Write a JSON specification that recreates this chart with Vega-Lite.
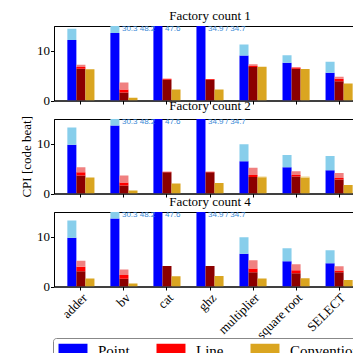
{
  "$schema": "https://vega.github.io/schema/vega-lite/v6.json",
  "padding": {"left": 20, "top": 9, "right": -14, "bottom": -9},
  "datasets": {
    "bars": [
      {"p":1,"c":"adder","s":"Point","g":"Point","lo":0,"hi":12.2},
      {"p":1,"c":"adder","s":"Point","g":"Point+","lo":12.2,"hi":14.45},
      {"p":1,"c":"adder","s":"Line","g":"Line base","lo":0,"hi":6.4},
      {"p":1,"c":"adder","s":"Line","g":"Line","lo":6.4,"hi":6.75},
      {"p":1,"c":"adder","s":"Line","g":"Line+","lo":6.75,"hi":7.2},
      {"p":1,"c":"adder","s":"Convention","g":"Convention","lo":0,"hi":6.3},
      {"p":1,"c":"bv","s":"Point","g":"Point","lo":0,"hi":13.6},
      {"p":1,"c":"bv","s":"Point","g":"Point+","lo":13.6,"hi":30.3},
      {"p":1,"c":"bv","s":"Line","g":"Line base","lo":0,"hi":1.6},
      {"p":1,"c":"bv","s":"Line","g":"Line","lo":1.6,"hi":2.2},
      {"p":1,"c":"bv","s":"Line","g":"Line+","lo":2.2,"hi":3.6},
      {"p":1,"c":"bv","s":"Convention","g":"Convention","lo":0,"hi":0.55},
      {"p":1,"c":"cat","s":"Point","g":"Point","lo":0,"hi":47.6},
      {"p":1,"c":"cat","s":"Line","g":"Line base","lo":0,"hi":4.2},
      {"p":1,"c":"cat","s":"Line","g":"Line","lo":4.2,"hi":4.4},
      {"p":1,"c":"cat","s":"Convention","g":"Convention","lo":0,"hi":2.2},
      {"p":1,"c":"ghz","s":"Point","g":"Point","lo":0,"hi":34.9},
      {"p":1,"c":"ghz","s":"Line","g":"Line base","lo":0,"hi":4.2},
      {"p":1,"c":"ghz","s":"Line","g":"Line","lo":4.2,"hi":4.35},
      {"p":1,"c":"ghz","s":"Convention","g":"Convention","lo":0,"hi":2.2},
      {"p":1,"c":"multiplier","s":"Point","g":"Point","lo":0,"hi":9.05},
      {"p":1,"c":"multiplier","s":"Point","g":"Point+","lo":9.05,"hi":11.3},
      {"p":1,"c":"multiplier","s":"Line","g":"Line base","lo":0,"hi":6.75},
      {"p":1,"c":"multiplier","s":"Line","g":"Line","lo":6.75,"hi":6.95},
      {"p":1,"c":"multiplier","s":"Line","g":"Line+","lo":6.95,"hi":7.3},
      {"p":1,"c":"multiplier","s":"Convention","g":"Convention","lo":0,"hi":6.8},
      {"p":1,"c":"square root","s":"Point","g":"Point","lo":0,"hi":7.6},
      {"p":1,"c":"square root","s":"Point","g":"Point+","lo":7.6,"hi":9.1},
      {"p":1,"c":"square root","s":"Line","g":"Line base","lo":0,"hi":6.4},
      {"p":1,"c":"square root","s":"Line","g":"Line","lo":6.4,"hi":6.65},
      {"p":1,"c":"square root","s":"Convention","g":"Convention","lo":0,"hi":6.35},
      {"p":1,"c":"SELECT","s":"Point","g":"Point","lo":0,"hi":5.6},
      {"p":1,"c":"SELECT","s":"Point","g":"Point+","lo":5.6,"hi":7.8},
      {"p":1,"c":"SELECT","s":"Line","g":"Line base","lo":0,"hi":3.9},
      {"p":1,"c":"SELECT","s":"Line","g":"Line","lo":3.9,"hi":4.4},
      {"p":1,"c":"SELECT","s":"Line","g":"Line+","lo":4.4,"hi":4.8},
      {"p":1,"c":"SELECT","s":"Convention","g":"Convention","lo":0,"hi":3.4},

      {"p":2,"c":"adder","s":"Point","g":"Point","lo":0,"hi":9.8},
      {"p":2,"c":"adder","s":"Point","g":"Point+","lo":9.8,"hi":13.3},
      {"p":2,"c":"adder","s":"Line","g":"Line base","lo":0,"hi":3.6},
      {"p":2,"c":"adder","s":"Line","g":"Line","lo":3.6,"hi":4.3},
      {"p":2,"c":"adder","s":"Line","g":"Line+","lo":4.3,"hi":5.3},
      {"p":2,"c":"adder","s":"Convention","g":"Convention","lo":0,"hi":3.2},
      {"p":2,"c":"bv","s":"Point","g":"Point","lo":0,"hi":13.7},
      {"p":2,"c":"bv","s":"Point","g":"Point+","lo":13.7,"hi":30.3},
      {"p":2,"c":"bv","s":"Line","g":"Line base","lo":0,"hi":1.6},
      {"p":2,"c":"bv","s":"Line","g":"Line","lo":1.6,"hi":2.2},
      {"p":2,"c":"bv","s":"Line","g":"Line+","lo":2.2,"hi":3.6},
      {"p":2,"c":"bv","s":"Convention","g":"Convention","lo":0,"hi":0.6},
      {"p":2,"c":"cat","s":"Point","g":"Point","lo":0,"hi":47.6},
      {"p":2,"c":"cat","s":"Line","g":"Line base","lo":0,"hi":4.3},
      {"p":2,"c":"cat","s":"Line","g":"Line","lo":4.3,"hi":4.4},
      {"p":2,"c":"cat","s":"Convention","g":"Convention","lo":0,"hi":2.0},
      {"p":2,"c":"ghz","s":"Point","g":"Point","lo":0,"hi":34.9},
      {"p":2,"c":"ghz","s":"Line","g":"Line base","lo":0,"hi":4.3},
      {"p":2,"c":"ghz","s":"Line","g":"Line","lo":4.3,"hi":4.4},
      {"p":2,"c":"ghz","s":"Convention","g":"Convention","lo":0,"hi":2.1},
      {"p":2,"c":"multiplier","s":"Point","g":"Point","lo":0,"hi":6.5},
      {"p":2,"c":"multiplier","s":"Point","g":"Point+","lo":6.5,"hi":9.9},
      {"p":2,"c":"multiplier","s":"Line","g":"Line base","lo":0,"hi":3.3},
      {"p":2,"c":"multiplier","s":"Line","g":"Line","lo":3.3,"hi":3.7},
      {"p":2,"c":"multiplier","s":"Line","g":"Line+","lo":3.7,"hi":5.2},
      {"p":2,"c":"multiplier","s":"Convention","g":"Convention","lo":0,"hi":3.25},
      {"p":2,"c":"multiplier","s":"Convention","g":"Convention+","lo":3.25,"hi":3.4},
      {"p":2,"c":"square root","s":"Point","g":"Point","lo":0,"hi":5.3},
      {"p":2,"c":"square root","s":"Point","g":"Point+","lo":5.3,"hi":7.75},
      {"p":2,"c":"square root","s":"Line","g":"Line base","lo":0,"hi":3.4},
      {"p":2,"c":"square root","s":"Line","g":"Line","lo":3.4,"hi":3.75},
      {"p":2,"c":"square root","s":"Line","g":"Line+","lo":3.75,"hi":4.5},
      {"p":2,"c":"square root","s":"Convention","g":"Convention","lo":0,"hi":3.2},
      {"p":2,"c":"square root","s":"Convention","g":"Convention+","lo":3.2,"hi":3.4},
      {"p":2,"c":"SELECT","s":"Point","g":"Point","lo":0,"hi":4.7},
      {"p":2,"c":"SELECT","s":"Point","g":"Point+","lo":4.7,"hi":7.55},
      {"p":2,"c":"SELECT","s":"Line","g":"Line base","lo":0,"hi":2.8},
      {"p":2,"c":"SELECT","s":"Line","g":"Line","lo":2.8,"hi":3.1},
      {"p":2,"c":"SELECT","s":"Line","g":"Line+","lo":3.1,"hi":4.15},
      {"p":2,"c":"SELECT","s":"Convention","g":"Convention","lo":0,"hi":1.7},

      {"p":4,"c":"adder","s":"Point","g":"Point","lo":0,"hi":9.8},
      {"p":4,"c":"adder","s":"Point","g":"Point+","lo":9.8,"hi":13.3},
      {"p":4,"c":"adder","s":"Line","g":"Line base","lo":0,"hi":3.05},
      {"p":4,"c":"adder","s":"Line","g":"Line","lo":3.05,"hi":4.0},
      {"p":4,"c":"adder","s":"Line","g":"Line+","lo":4.0,"hi":5.2},
      {"p":4,"c":"adder","s":"Convention","g":"Convention","lo":0,"hi":1.6},
      {"p":4,"c":"bv","s":"Point","g":"Point","lo":0,"hi":13.7},
      {"p":4,"c":"bv","s":"Point","g":"Point+","lo":13.7,"hi":30.3},
      {"p":4,"c":"bv","s":"Line","g":"Line base","lo":0,"hi":1.55},
      {"p":4,"c":"bv","s":"Line","g":"Line","lo":1.55,"hi":2.3},
      {"p":4,"c":"bv","s":"Line","g":"Line+","lo":2.3,"hi":3.4},
      {"p":4,"c":"bv","s":"Convention","g":"Convention","lo":0,"hi":0.6},
      {"p":4,"c":"cat","s":"Point","g":"Point","lo":0,"hi":47.6},
      {"p":4,"c":"cat","s":"Line","g":"Line base","lo":0,"hi":4.15},
      {"p":4,"c":"cat","s":"Convention","g":"Convention","lo":0,"hi":2.05},
      {"p":4,"c":"ghz","s":"Point","g":"Point","lo":0,"hi":34.9},
      {"p":4,"c":"ghz","s":"Line","g":"Line base","lo":0,"hi":4.15},
      {"p":4,"c":"ghz","s":"Convention","g":"Convention","lo":0,"hi":2.1},
      {"p":4,"c":"multiplier","s":"Point","g":"Point","lo":0,"hi":6.6},
      {"p":4,"c":"multiplier","s":"Point","g":"Point+","lo":6.6,"hi":9.9},
      {"p":4,"c":"multiplier","s":"Line","g":"Line base","lo":0,"hi":2.85},
      {"p":4,"c":"multiplier","s":"Line","g":"Line","lo":2.85,"hi":3.6},
      {"p":4,"c":"multiplier","s":"Line","g":"Line+","lo":3.6,"hi":5.3},
      {"p":4,"c":"multiplier","s":"Convention","g":"Convention","lo":0,"hi":1.6},
      {"p":4,"c":"square root","s":"Point","g":"Point","lo":0,"hi":5.1},
      {"p":4,"c":"square root","s":"Point","g":"Point+","lo":5.1,"hi":7.7},
      {"p":4,"c":"square root","s":"Line","g":"Line base","lo":0,"hi":2.65},
      {"p":4,"c":"square root","s":"Line","g":"Line","lo":2.65,"hi":3.25},
      {"p":4,"c":"square root","s":"Line","g":"Line+","lo":3.25,"hi":4.5},
      {"p":4,"c":"square root","s":"Convention","g":"Convention","lo":0,"hi":1.65},
      {"p":4,"c":"SELECT","s":"Point","g":"Point","lo":0,"hi":4.7},
      {"p":4,"c":"SELECT","s":"Point","g":"Point+","lo":4.7,"hi":7.3},
      {"p":4,"c":"SELECT","s":"Line","g":"Line base","lo":0,"hi":2.85},
      {"p":4,"c":"SELECT","s":"Line","g":"Line","lo":2.85,"hi":3.2},
      {"p":4,"c":"SELECT","s":"Line","g":"Line+","lo":3.2,"hi":4.1},
      {"p":4,"c":"SELECT","s":"Convention","g":"Convention","lo":0,"hi":1.3}
    ],
    "notes": [
      {"p":1,"c":"bv","t":"30.3 48.2","y":14.3},
      {"p":1,"c":"cat","t":"47.6","y":14.3},
      {"p":1,"c":"ghz","t":"34.9 / 34.7","y":14.3},
      {"p":2,"c":"bv","t":"30.3 48.2","y":14.3},
      {"p":2,"c":"cat","t":"47.6","y":14.3},
      {"p":2,"c":"ghz","t":"34.9 / 34.7","y":14.3},
      {"p":4,"c":"bv","t":"30.3 48.2","y":14.3},
      {"p":4,"c":"cat","t":"47.6","y":14.3},
      {"p":4,"c":"ghz","t":"34.9 / 34.7","y":14.3}
    ]
  },
  "spacing": 18,
  "bounds": "flush",
  "vconcat": [
    {
      "title": "Factory count 1",
      "width": 312, "height": 74.5,
      "layer": [
        {
          "data": {"name": "bars"},
          "transform": [{"filter": "datum.p == 1"}],
          "mark": {"type": "bar", "clip": true},
          "encoding": {
            "x": {"field": "c", "type": "nominal", "sort": ["adder","bv","cat","ghz","multiplier","square root","SELECT"], "scale": {"paddingInner": 0.37, "paddingOuter": 0.31}, "axis": {"labels": false, "title": null}},
            "xOffset": {"field": "s", "type": "nominal", "sort": ["Point","Line","Convention"]},
            "y": {"field": "hi", "type": "quantitative", "scale": {"domain": [0, 15], "nice": false}, "axis": {"values": [0, 10], "title": null}},
            "y2": {"field": "lo"},
            "color": {"field": "g", "type": "nominal", "scale": {"domain": ["Point","Point+","Line base","Line","Line+","Convention","Convention+"], "range": ["#0000ff","#87ceeb","#8b0000","#ff0000","#f08080","#daa520","#f0d48a"]}, "legend": {"values": ["Point","Line","Convention"], "title": null, "orient": "none", "direction": "horizontal", "legendX": -1, "legendY": 312}}
          }
        },
        {
          "data": {"name": "notes"},
          "transform": [{"filter": "datum.p == 1"}],
          "mark": {"type": "text", "align": "left", "baseline": "middle", "dx": -2, "fontSize": 8, "font": "Liberation Sans", "color": "#3a8ad6"},
          "encoding": {
            "x": {"field": "c", "type": "nominal", "sort": ["adder","bv","cat","ghz","multiplier","square root","SELECT"]},
            "y": {"field": "y", "type": "quantitative"},
            "text": {"field": "t"}
          }
        }
      ]
    },
    {
      "title": "Factory count 2",
      "width": 312, "height": 74.5,
      "layer": [
        {
          "data": {"name": "bars"},
          "transform": [{"filter": "datum.p == 2"}],
          "mark": {"type": "bar", "clip": true},
          "encoding": {
            "x": {"field": "c", "type": "nominal", "sort": ["adder","bv","cat","ghz","multiplier","square root","SELECT"], "scale": {"paddingInner": 0.37, "paddingOuter": 0.31}, "axis": {"labels": false, "title": null}},
            "xOffset": {"field": "s", "type": "nominal", "sort": ["Point","Line","Convention"]},
            "y": {"field": "hi", "type": "quantitative", "scale": {"domain": [0, 15], "nice": false}, "axis": {"values": [0, 10], "title": "CPI [code beat]"}},
            "y2": {"field": "lo"},
            "color": {"field": "g", "type": "nominal", "scale": {"domain": ["Point","Point+","Line base","Line","Line+","Convention","Convention+"], "range": ["#0000ff","#87ceeb","#8b0000","#ff0000","#f08080","#daa520","#f0d48a"]}, "legend": {"values": ["Point","Line","Convention"], "title": null, "orient": "none", "direction": "horizontal", "legendX": -1, "legendY": 312}}
          }
        },
        {
          "data": {"name": "notes"},
          "transform": [{"filter": "datum.p == 2"}],
          "mark": {"type": "text", "align": "left", "baseline": "middle", "dx": -2, "fontSize": 8, "font": "Liberation Sans", "color": "#3a8ad6"},
          "encoding": {
            "x": {"field": "c", "type": "nominal", "sort": ["adder","bv","cat","ghz","multiplier","square root","SELECT"]},
            "y": {"field": "y", "type": "quantitative"},
            "text": {"field": "t"}
          }
        }
      ]
    },
    {
      "title": "Factory count 4",
      "width": 312, "height": 74.5,
      "layer": [
        {
          "data": {"name": "bars"},
          "transform": [{"filter": "datum.p == 4"}],
          "mark": {"type": "bar", "clip": true},
          "encoding": {
            "x": {"field": "c", "type": "nominal", "sort": ["adder","bv","cat","ghz","multiplier","square root","SELECT"], "scale": {"paddingInner": 0.37, "paddingOuter": 0.31}, "axis": {"labelAngle": -45, "labelAlign": "right", "labelBaseline": "top", "title": null}},
            "xOffset": {"field": "s", "type": "nominal", "sort": ["Point","Line","Convention"]},
            "y": {"field": "hi", "type": "quantitative", "scale": {"domain": [0, 15], "nice": false}, "axis": {"values": [0, 10], "title": null}},
            "y2": {"field": "lo"},
            "color": {"field": "g", "type": "nominal", "scale": {"domain": ["Point","Point+","Line base","Line","Line+","Convention","Convention+"], "range": ["#0000ff","#87ceeb","#8b0000","#ff0000","#f08080","#daa520","#f0d48a"]}, "legend": {"values": ["Point","Line","Convention"], "title": null, "orient": "none", "direction": "horizontal", "legendX": -1, "legendY": 312}}
          }
        },
        {
          "data": {"name": "notes"},
          "transform": [{"filter": "datum.p == 4"}],
          "mark": {"type": "text", "align": "left", "baseline": "middle", "dx": -2, "fontSize": 8, "font": "Liberation Sans", "color": "#3a8ad6"},
          "encoding": {
            "x": {"field": "c", "type": "nominal", "sort": ["adder","bv","cat","ghz","multiplier","square root","SELECT"]},
            "y": {"field": "y", "type": "quantitative"},
            "text": {"field": "t"}
          }
        }
      ]
    }
  ],
  "config": {
    "view": {"stroke": "black", "strokeWidth": 1},
    "bar": {"stroke": null},
    "axis": {"domainColor": "black", "tickColor": "black", "labelColor": "black", "labelFont": "Liberation Serif", "labelFontSize": 13, "titleFont": "Liberation Serif", "titleFontSize": 13, "titleFontWeight": "normal", "titleColor": "black", "grid": false, "tickSize": 3.5, "labelPadding": 1, "titlePadding": 3},
    "title": {"font": "Liberation Serif", "fontSize": 13, "fontWeight": "normal", "color": "black", "offset": 2, "anchor": "middle"},
    "legend": {"symbolType": "M-1,-1H3.14V1H-1Z", "symbolSize": 196, "symbolStrokeWidth": 0, "symbolOpacity": 1, "labelFont": "Liberation Serif", "labelFontSize": 15, "labelColor": "black", "columnPadding": 26, "labelOffset": 25, "padding": 5, "strokeColor": "#888", "strokeWidth": 1, "cornerRadius": 3, "fillColor": "white"}
  }
}
